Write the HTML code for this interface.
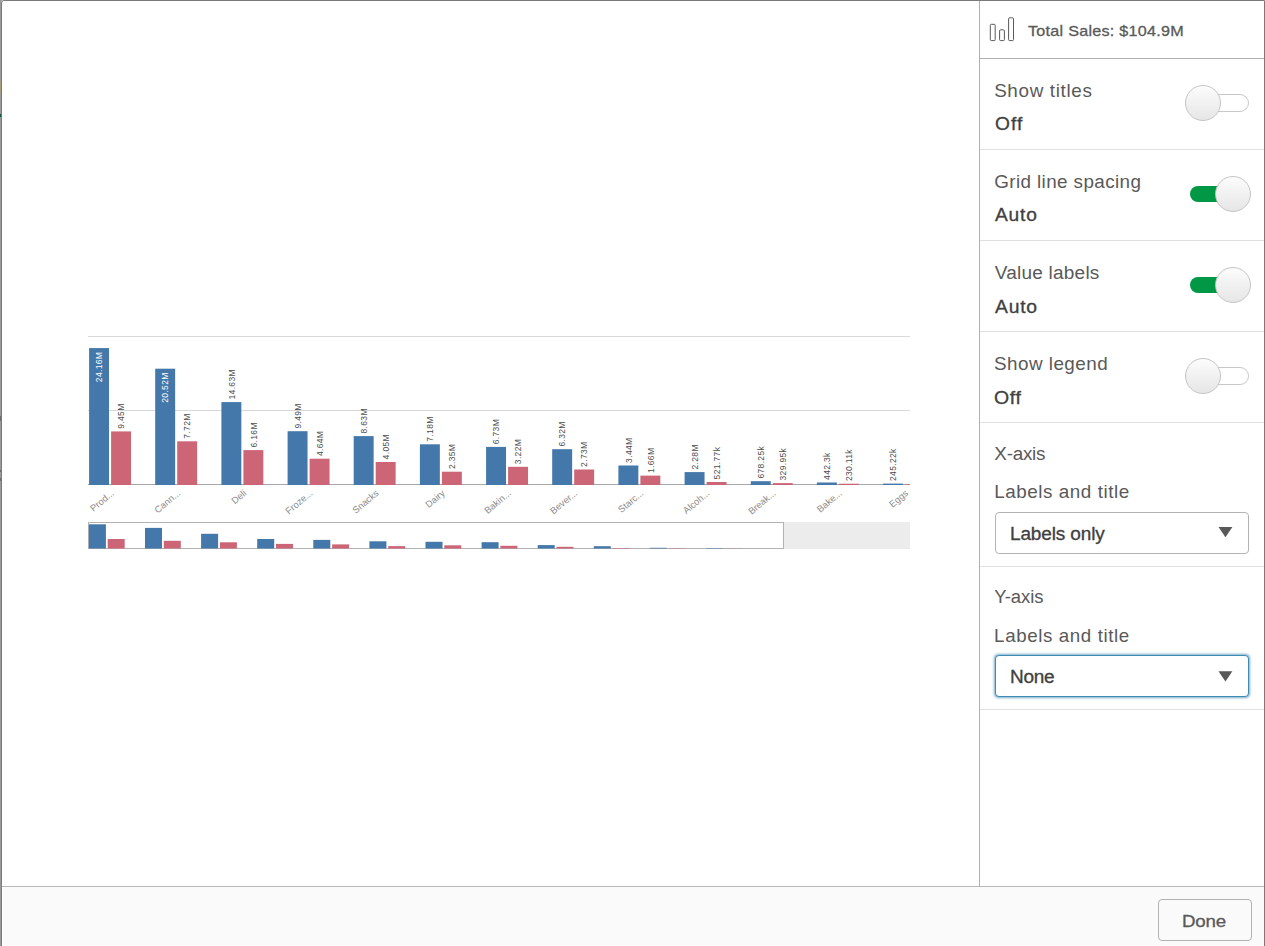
<!DOCTYPE html>
<html><head><meta charset="utf-8"><title>Total Sales</title>
<style>
html,body{margin:0;padding:0;}
body{width:1265px;height:946px;overflow:hidden;background:#fff;font-family:"Liberation Sans",sans-serif;color:#595959;position:relative;}
.frame{position:absolute;left:0;top:0;width:1265px;height:946px;box-sizing:border-box;border-left:1px solid #9a9a9a;pointer-events:none;z-index:10;}
.frame i{position:absolute;left:0;top:0;width:1264px;height:950px;box-sizing:border-box;border:1px solid #7a7a7a;border-radius:3px 0 0 0;display:block;box-shadow:0 0 0 3px #9a9a9a;clip-path:inset(0 0 0 -1px);}
.chart{position:absolute;left:0;top:0;}
.mk{position:absolute;left:0;width:1px;z-index:11;}
.tx{position:absolute;white-space:nowrap;line-height:1;z-index:5;}
.vline{position:absolute;left:979px;top:0;width:1px;height:886px;background:#b0b0b0;}
.hl{position:absolute;left:980px;width:285px;height:1px;background:#e0e0e0;}
.tg{position:absolute;left:1185px;width:66px;height:36px;}
.tg .tr{position:absolute;left:5px;top:9px;width:59px;height:18px;border-radius:9px;box-sizing:border-box;border:1px solid #c8c8c8;background:#fff;}
.tg .kn{position:absolute;left:0;top:0;width:36px;height:36px;border-radius:18px;box-sizing:border-box;border:1px solid #c4c4c4;background:linear-gradient(#fcfcfc,#e6e6e6);}
.tg.on .tr{background:#009845;border:0;top:10px;height:16px;border-radius:8px;}
.tg.on .kn{left:30px;}
.sel{position:absolute;left:995px;width:254px;height:42px;box-sizing:border-box;border:1px solid #b3b3b3;border-radius:4px;background:#fff;}
.sel .a{position:absolute;right:15.5px;top:14.5px;width:0;height:0;border-left:6.75px solid transparent;border-right:6.75px solid transparent;border-top:9.8px solid #595959;}
.ar{position:absolute;left:1210px;}
.sel.f{border:1px solid #3f8ab3;box-shadow:0 0 2.5px 0.5px rgba(63,138,179,.7);}
.foot{position:absolute;left:3px;top:887px;width:1261px;height:59px;background:#fafafa;}
.fl{position:absolute;left:2px;top:886px;width:1262px;height:1px;background:#b8b8b8;}
.btn{position:absolute;left:1158px;top:899px;width:94px;height:42px;box-sizing:border-box;border:1px solid #b3b3b3;border-radius:4px;background:#fafafa;}
</style></head><body>
<svg class="chart" width="980" height="886" viewBox="0 0 980 886" font-family="Liberation Sans, sans-serif">
<defs><clipPath id="cp"><rect x="88" y="330" width="822" height="160"/></clipPath></defs>
<rect x="88" y="336" width="822" height="1" fill="#d9d9d9"/>
<rect x="88" y="410" width="822" height="1" fill="#d9d9d9"/>
<rect x="88" y="484" width="822" height="1" fill="#a8a8a8"/>
<g clip-path="url(#cp)">
<rect x="89.1" y="348.1" width="19.94" height="136.9" fill="#4477aa"/>
<rect x="111.1" y="431.4" width="19.94" height="53.6" fill="#cc6677"/>
<text transform="translate(102.2,351.7) rotate(-90)" font-size="8.5" letter-spacing="0.35" fill="#fff" text-anchor="end">24.16M</text>
<text transform="translate(124.2,428.8) rotate(-90)" font-size="8.5" letter-spacing="0.35" fill="#4d4d4d" text-anchor="start">9.45M</text>
<rect x="155.2" y="368.7" width="19.94" height="116.3" fill="#4477aa"/>
<rect x="177.2" y="441.3" width="19.94" height="43.7" fill="#cc6677"/>
<text transform="translate(168.4,372.3) rotate(-90)" font-size="8.5" letter-spacing="0.35" fill="#fff" text-anchor="end">20.52M</text>
<text transform="translate(190.4,438.7) rotate(-90)" font-size="8.5" letter-spacing="0.35" fill="#4d4d4d" text-anchor="start">7.72M</text>
<rect x="221.4" y="402.1" width="19.94" height="82.9" fill="#4477aa"/>
<rect x="243.4" y="450.1" width="19.94" height="34.9" fill="#cc6677"/>
<text transform="translate(234.6,399.5) rotate(-90)" font-size="8.5" letter-spacing="0.35" fill="#4d4d4d" text-anchor="start">14.63M</text>
<text transform="translate(256.6,447.5) rotate(-90)" font-size="8.5" letter-spacing="0.35" fill="#4d4d4d" text-anchor="start">6.16M</text>
<rect x="287.6" y="431.2" width="19.94" height="53.8" fill="#4477aa"/>
<rect x="309.6" y="458.7" width="19.94" height="26.3" fill="#cc6677"/>
<text transform="translate(300.7,428.6) rotate(-90)" font-size="8.5" letter-spacing="0.35" fill="#4d4d4d" text-anchor="start">9.49M</text>
<text transform="translate(322.7,456.1) rotate(-90)" font-size="8.5" letter-spacing="0.35" fill="#4d4d4d" text-anchor="start">4.64M</text>
<rect x="353.7" y="436.1" width="19.94" height="48.9" fill="#4477aa"/>
<rect x="375.7" y="462.0" width="19.94" height="23.0" fill="#cc6677"/>
<text transform="translate(366.9,433.5) rotate(-90)" font-size="8.5" letter-spacing="0.35" fill="#4d4d4d" text-anchor="start">8.63M</text>
<text transform="translate(388.9,459.4) rotate(-90)" font-size="8.5" letter-spacing="0.35" fill="#4d4d4d" text-anchor="start">4.05M</text>
<rect x="419.9" y="444.3" width="19.94" height="40.7" fill="#4477aa"/>
<rect x="441.9" y="471.7" width="19.94" height="13.3" fill="#cc6677"/>
<text transform="translate(433.1,441.7) rotate(-90)" font-size="8.5" letter-spacing="0.35" fill="#4d4d4d" text-anchor="start">7.18M</text>
<text transform="translate(455.1,469.1) rotate(-90)" font-size="8.5" letter-spacing="0.35" fill="#4d4d4d" text-anchor="start">2.35M</text>
<rect x="486.1" y="446.9" width="19.94" height="38.1" fill="#4477aa"/>
<rect x="508.1" y="466.8" width="19.94" height="18.2" fill="#cc6677"/>
<text transform="translate(499.2,444.3) rotate(-90)" font-size="8.5" letter-spacing="0.35" fill="#4d4d4d" text-anchor="start">6.73M</text>
<text transform="translate(521.2,464.2) rotate(-90)" font-size="8.5" letter-spacing="0.35" fill="#4d4d4d" text-anchor="start">3.22M</text>
<rect x="552.2" y="449.2" width="19.94" height="35.8" fill="#4477aa"/>
<rect x="574.2" y="469.5" width="19.94" height="15.5" fill="#cc6677"/>
<text transform="translate(565.4,446.6) rotate(-90)" font-size="8.5" letter-spacing="0.35" fill="#4d4d4d" text-anchor="start">6.32M</text>
<text transform="translate(587.4,466.9) rotate(-90)" font-size="8.5" letter-spacing="0.35" fill="#4d4d4d" text-anchor="start">2.73M</text>
<rect x="618.4" y="465.5" width="19.94" height="19.5" fill="#4477aa"/>
<rect x="640.4" y="475.6" width="19.94" height="9.4" fill="#cc6677"/>
<text transform="translate(631.6,462.9) rotate(-90)" font-size="8.5" letter-spacing="0.35" fill="#4d4d4d" text-anchor="start">3.44M</text>
<text transform="translate(653.6,473.0) rotate(-90)" font-size="8.5" letter-spacing="0.35" fill="#4d4d4d" text-anchor="start">1.66M</text>
<rect x="684.6" y="472.1" width="19.94" height="12.9" fill="#4477aa"/>
<rect x="706.6" y="482.0" width="19.94" height="3.0" fill="#cc6677"/>
<text transform="translate(697.8,469.5) rotate(-90)" font-size="8.5" letter-spacing="0.35" fill="#4d4d4d" text-anchor="start">2.28M</text>
<text transform="translate(719.8,479.4) rotate(-90)" font-size="8.5" letter-spacing="0.35" fill="#4d4d4d" text-anchor="start">521.77k</text>
<rect x="750.8" y="481.2" width="19.94" height="3.8" fill="#4477aa"/>
<rect x="772.8" y="483.1" width="19.94" height="1.9" fill="#cc6677"/>
<text transform="translate(763.9,478.6) rotate(-90)" font-size="8.5" letter-spacing="0.35" fill="#4d4d4d" text-anchor="start">678.25k</text>
<text transform="translate(785.9,480.5) rotate(-90)" font-size="8.5" letter-spacing="0.35" fill="#4d4d4d" text-anchor="start">329.95k</text>
<rect x="816.9" y="482.5" width="19.94" height="2.5" fill="#4477aa"/>
<rect x="838.9" y="483.7" width="19.94" height="1.3" fill="#cc6677"/>
<text transform="translate(830.1,479.9) rotate(-90)" font-size="8.5" letter-spacing="0.35" fill="#4d4d4d" text-anchor="start">442.3k</text>
<text transform="translate(852.1,481.1) rotate(-90)" font-size="8.5" letter-spacing="0.35" fill="#4d4d4d" text-anchor="start">230.11k</text>
<rect x="883.1" y="483.6" width="19.94" height="1.4" fill="#4477aa"/>
<rect x="905.1" y="484.3" width="19.94" height="0.7" fill="#cc6677"/>
<text transform="translate(896.3,481.0) rotate(-90)" font-size="8.5" letter-spacing="0.35" fill="#4d4d4d" text-anchor="start">245.22k</text>
</g>
<text transform="translate(114.7,494.2) rotate(-40)" font-size="9.4" fill="#8a8a8a" text-anchor="end">Prod...</text>
<text transform="translate(180.9,494.2) rotate(-40)" font-size="9.4" fill="#8a8a8a" text-anchor="end">Cann...</text>
<text transform="translate(247.1,494.2) rotate(-40)" font-size="9.4" fill="#8a8a8a" text-anchor="end">Deli</text>
<text transform="translate(313.2,494.2) rotate(-40)" font-size="9.4" fill="#8a8a8a" text-anchor="end">Froze...</text>
<text transform="translate(379.4,494.2) rotate(-40)" font-size="9.4" fill="#8a8a8a" text-anchor="end">Snacks</text>
<text transform="translate(445.6,494.2) rotate(-40)" font-size="9.4" fill="#8a8a8a" text-anchor="end">Dairy</text>
<text transform="translate(511.7,494.2) rotate(-40)" font-size="9.4" fill="#8a8a8a" text-anchor="end">Bakin...</text>
<text transform="translate(577.9,494.2) rotate(-40)" font-size="9.4" fill="#8a8a8a" text-anchor="end">Bever...</text>
<text transform="translate(644.1,494.2) rotate(-40)" font-size="9.4" fill="#8a8a8a" text-anchor="end">Starc...</text>
<text transform="translate(710.3,494.2) rotate(-40)" font-size="9.4" fill="#8a8a8a" text-anchor="end">Alcoh...</text>
<text transform="translate(776.4,494.2) rotate(-40)" font-size="9.4" fill="#8a8a8a" text-anchor="end">Break...</text>
<text transform="translate(842.6,494.2) rotate(-40)" font-size="9.4" fill="#8a8a8a" text-anchor="end">Bake...</text>
<text transform="translate(908.8,494.2) rotate(-40)" font-size="9.4" fill="#8a8a8a" text-anchor="end">Eggs</text>
<rect x="784" y="522" width="126" height="27" fill="#ececec"/>
<rect x="88.5" y="522.5" width="695" height="26" fill="#fff" stroke="#b3b3b3" stroke-width="1"/>
<rect x="88.9" y="524.3" width="17" height="24.2" fill="#4477aa"/>
<rect x="107.7" y="539.0" width="17" height="9.5" fill="#cc6677"/>
<rect x="145.0" y="527.9" width="17" height="20.6" fill="#4477aa"/>
<rect x="163.8" y="540.8" width="17" height="7.7" fill="#cc6677"/>
<rect x="201.1" y="533.8" width="17" height="14.7" fill="#4477aa"/>
<rect x="219.9" y="542.3" width="17" height="6.2" fill="#cc6677"/>
<rect x="257.2" y="539.0" width="17" height="9.5" fill="#4477aa"/>
<rect x="276.0" y="543.9" width="17" height="4.6" fill="#cc6677"/>
<rect x="313.3" y="539.9" width="17" height="8.6" fill="#4477aa"/>
<rect x="332.1" y="544.4" width="17" height="4.1" fill="#cc6677"/>
<rect x="369.4" y="541.3" width="17" height="7.2" fill="#4477aa"/>
<rect x="388.2" y="546.1" width="17" height="2.4" fill="#cc6677"/>
<rect x="425.5" y="541.8" width="17" height="6.7" fill="#4477aa"/>
<rect x="444.3" y="545.3" width="17" height="3.2" fill="#cc6677"/>
<rect x="481.6" y="542.2" width="17" height="6.3" fill="#4477aa"/>
<rect x="500.4" y="545.8" width="17" height="2.7" fill="#cc6677"/>
<rect x="537.7" y="545.1" width="17" height="3.4" fill="#4477aa"/>
<rect x="556.5" y="546.8" width="17" height="1.7" fill="#cc6677"/>
<rect x="593.8" y="546.2" width="17" height="2.3" fill="#4477aa"/>
<rect x="612.6" y="548.0" width="17" height="0.5" fill="#cc6677"/>
<rect x="649.9" y="547.8" width="17" height="0.7" fill="#4477aa"/>
<rect x="668.7" y="548.2" width="17" height="0.3" fill="#cc6677"/>
<rect x="706.0" y="548.1" width="17" height="0.4" fill="#4477aa"/>
<rect x="724.8" y="548.3" width="17" height="0.2" fill="#cc6677"/>
</svg>
<div class="vline"></div>
<div class="hl" style="top:58px;background:#b0b0b0"></div>
<div class="hl" style="top:149px"></div>
<div class="hl" style="top:240px"></div>
<div class="hl" style="top:331px"></div>
<div class="hl" style="top:422px"></div>
<div class="hl" style="top:566px"></div>
<div class="hl" style="top:709px"></div>
<svg style="position:absolute;left:988px;top:15px" width="30" height="30" viewBox="0 0 30 30"><g fill="none" stroke="#595959" stroke-width="1"><rect x="2.3" y="9.3" width="4.9" height="16.3" rx="1"/><rect x="11.6" y="14.8" width="4.8" height="10.8" rx="1"/><rect x="20.6" y="2.8" width="4.9" height="22.8" rx="1"/></g></svg>
<div class="tg" style="top:85px"><div class="tr"></div><div class="kn"></div></div>
<div class="tg on" style="top:176px"><div class="tr"></div><div class="kn"></div></div>
<div class="tg on" style="top:267px"><div class="tr"></div><div class="kn"></div></div>
<div class="tg" style="top:358px"><div class="tr"></div><div class="kn"></div></div>
<div class="sel" style="top:512px"></div><svg class="ar" style="top:520px" width="30" height="30"><polygon points="8.5,7 22.4,7 15.45,17.3" fill="#595959"/></svg>
<div class="sel f" style="top:655px"></div><svg class="ar" style="top:664px" width="30" height="30"><polygon points="8.5,7.3 22.4,7.3 15.45,17.6" fill="#595959"/></svg>
<div class="foot"></div><div class="fl"></div>
<div class="btn"></div>
<div id="h" class="tx" style="transform:scaleX(1.08);transform-origin:0 0;left:1027.63px;top:24.36px;font-size:14.94px;letter-spacing:0.248px;font-weight:normal;-webkit-text-stroke:0.3px #595959;color:#595959">Total Sales: $104.9M</div>
<div id="l1" class="tx" style="left:994.13px;top:81.75px;font-size:18.85px;letter-spacing:0.661px;font-weight:normal;color:#595959">Show titles</div>
<div id="v1" class="tx" style="transform:scaleX(1.08);transform-origin:0 0;left:994.54px;top:116.40px;font-size:17.74px;letter-spacing:0.997px;font-weight:normal;-webkit-text-stroke:0.3px #404040;color:#404040">Off</div>
<div id="l2" class="tx" style="left:994.19px;top:172.75px;font-size:18.85px;letter-spacing:0.399px;font-weight:normal;color:#595959">Grid line spacing</div>
<div id="v2" class="tx" style="transform:scaleX(1.08);transform-origin:0 0;left:994.83px;top:207.36px;font-size:17.74px;letter-spacing:0.774px;font-weight:normal;-webkit-text-stroke:0.3px #404040;color:#404040">Auto</div>
<div id="l3" class="tx" style="left:994.84px;top:263.00px;font-size:18.99px;letter-spacing:0.224px;font-weight:normal;color:#595959">Value labels</div>
<div id="v3" class="tx" style="transform:scaleX(1.08);transform-origin:0 0;left:994.69px;top:298.75px;font-size:17.88px;letter-spacing:0.744px;font-weight:normal;-webkit-text-stroke:0.3px #404040;color:#404040">Auto</div>
<div id="l4" class="tx" style="left:994.05px;top:355.25px;font-size:18.85px;letter-spacing:0.467px;font-weight:normal;color:#595959">Show legend</div>
<div id="v4" class="tx" style="transform:scaleX(1.08);transform-origin:0 0;left:994.37px;top:388.64px;font-size:18.02px;letter-spacing:0.636px;font-weight:normal;-webkit-text-stroke:0.3px #404040;color:#404040">Off</div>
<div id="l5" class="tx" style="left:994.33px;top:444.53px;font-size:18.85px;letter-spacing:-0.248px;font-weight:normal;color:#595959">X-axis</div>
<div id="l6" class="tx" style="left:994.14px;top:482.75px;font-size:18.85px;letter-spacing:0.553px;font-weight:normal;color:#595959">Labels and title</div>
<div id="s1" class="tx" style="transform:scaleX(1.08);transform-origin:0 0;left:1010.31px;top:525.52px;font-size:17.60px;letter-spacing:-0.125px;font-weight:normal;-webkit-text-stroke:0.3px #404040;color:#404040">Labels only</div>
<div id="l7" class="tx" style="left:994.16px;top:587.57px;font-size:18.44px;letter-spacing:-0.029px;font-weight:normal;color:#595959">Y-axis</div>
<div id="l8" class="tx" style="left:994.12px;top:626.52px;font-size:18.72px;letter-spacing:0.621px;font-weight:normal;color:#595959">Labels and title</div>
<div id="s2" class="tx" style="transform:scaleX(1.08);transform-origin:0 0;left:1010.31px;top:668.52px;font-size:17.60px;letter-spacing:-0.256px;font-weight:normal;-webkit-text-stroke:0.3px #404040;color:#404040">None</div>
<div id="d" class="tx" style="transform:scaleX(1.08);transform-origin:0 0;left:1182.43px;top:912.72px;font-size:17.32px;letter-spacing:-0.140px;font-weight:normal;-webkit-text-stroke:0.3px #595959;color:#595959">Done</div>
<div class="frame"><i></i></div>
<div class="mk" style="top:81px;height:12px;background:#a89c78"></div><div class="mk" style="top:114px;height:3px;background:#0a5a33"></div><div class="mk" style="top:416px;height:5px;background:#6e6e6e"></div><div class="mk" style="top:470px;height:2px;background:#6e6e6e"></div><div class="mk" style="top:478px;height:3px;background:#6e6e6e"></div>
</body></html>
